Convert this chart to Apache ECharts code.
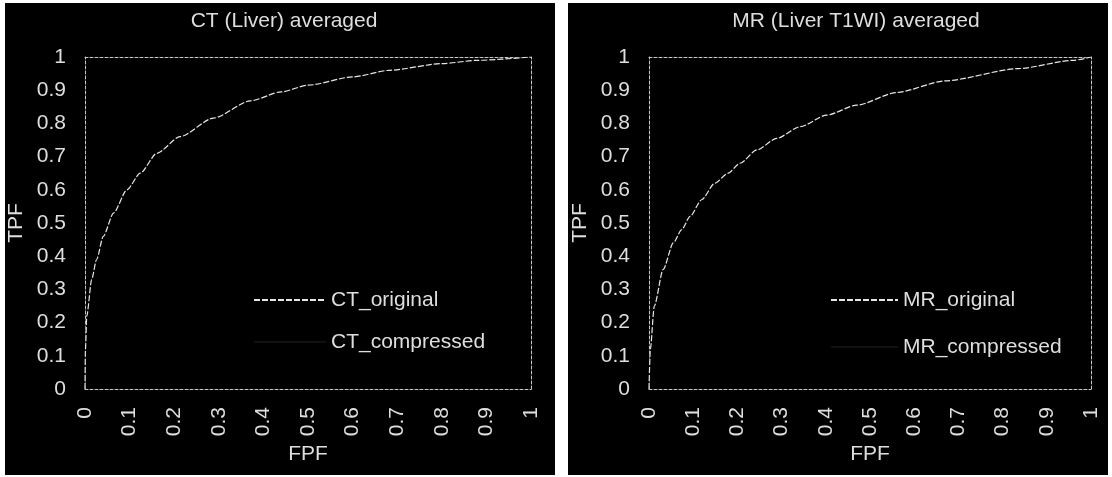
<!DOCTYPE html>
<html>
<head>
<meta charset="utf-8">
<script src="https://cdn.jsdelivr.net/npm/echarts@6/dist/echarts.min.js"></script>
<style>
html,body{margin:0;padding:0;background:#ffffff;}
#c{width:1112px;height:477px;}
</style>
</head>
<body>
<div id="c"></div>
<script>
// ---- data ----
const tickLabels = ['0','0.1','0.2','0.3','0.4','0.5','0.6','0.7','0.8','0.9','1'];

const ctFPF = [0, 0.001, 0.004, 0.015, 0.026, 0.041, 0.064, 0.094, 0.124, 0.161, 0.213, 0.288, 0.371, 0.44, 0.5, 0.6, 0.683, 0.8, 0.88, 1];
const ctOrigTPF = [0, 0.12, 0.22, 0.33, 0.39, 0.46, 0.53, 0.60, 0.65, 0.71, 0.76, 0.816, 0.868, 0.895, 0.915, 0.94, 0.96, 0.98, 0.99, 1];
const ctCompTPF = [0, 0.12, 0.22, 0.33, 0.39, 0.46, 0.53, 0.60, 0.65, 0.71, 0.76, 0.816, 0.868, 0.895, 0.915, 0.94, 0.96, 0.98, 0.99, 1];

const mrFPF = [0, 0.003, 0.012, 0.032, 0.055, 0.074, 0.093, 0.119, 0.149, 0.179, 0.206, 0.244, 0.289, 0.342, 0.402, 0.47, 0.56, 0.67, 0.835, 0.96, 1];
const mrOrigTPF = [0, 0.12, 0.25, 0.36, 0.44, 0.48, 0.52, 0.57, 0.62, 0.65, 0.68, 0.72, 0.755, 0.79, 0.825, 0.855, 0.893, 0.928, 0.965, 0.99, 1];
const mrCompTPF = [0, 0.12, 0.25, 0.36, 0.44, 0.48, 0.52, 0.57, 0.62, 0.65, 0.68, 0.72, 0.755, 0.79, 0.825, 0.855, 0.893, 0.928, 0.965, 0.99, 1];

const titles = ['CT (Liver) averaged', 'MR (Liver T1WI) averaged'];
const seriesNames = [['CT_original','CT_compressed'], ['MR_original','MR_compressed']];
// --------------------------------------

const FONT = 'Liberation Sans';
const TXT = '#dedede';
const BOX = {show: true, onZero: false, lineStyle: {color: '#c8c8c8', width: 1, type: [3, 2]}};
const pair = (xs, ys) => xs.map((x, i) => [x, ys[i]]);
const fmt = v => tickLabels[Math.round(v * 10)];

const grids = [
  {left: 85, top: 57, width: 446, height: 332},
  {left: 649, top: 57, width: 442, height: 332}
];

const xAxes = [], yAxes = [];
grids.forEach((g, i) => {
  xAxes.push({
    type: 'value', gridIndex: i, min: 0, max: 1, interval: 0.1, position: 'bottom',
    name: 'FPF', nameLocation: 'middle', nameGap: 52,
    nameTextStyle: {color: TXT, fontFamily: FONT, fontSize: 21},
    axisLine: BOX, axisTick: {show: false}, splitLine: {show: false},
    axisLabel: {rotate: 90, margin: 18, color: TXT, fontFamily: FONT, fontSize: 21, formatter: fmt}
  });
  xAxes.push({
    type: 'value', gridIndex: i, min: 0, max: 1, interval: 0.1, position: 'top',
    axisLine: BOX, axisTick: {show: false}, splitLine: {show: false}, axisLabel: {show: false}
  });
  yAxes.push({
    type: 'value', gridIndex: i, min: 0, max: 1, interval: 0.1, position: 'left',
    name: 'TPF', nameLocation: 'middle', nameGap: 58,
    nameTextStyle: {color: TXT, fontFamily: FONT, fontSize: 21},
    axisLine: BOX, axisTick: {show: false}, splitLine: {show: false},
    axisLabel: {margin: 19, color: TXT, fontFamily: FONT, fontSize: 21, formatter: fmt}
  });
  yAxes.push({
    type: 'value', gridIndex: i, min: 0, max: 1, interval: 0.1, position: 'right',
    axisLine: BOX, axisTick: {show: false}, splitLine: {show: false}, axisLabel: {show: false}
  });
});

function mkSeries(name, data, idx, orig) {
  return {
    name: name, type: 'line', xAxisIndex: idx * 2, yAxisIndex: idx * 2,
    data: data, showSymbol: false, symbol: 'none',
    smooth: 0.25, smoothMonotone: 'x',
    z: orig ? 3 : 2,
    lineStyle: orig ? {color: '#e6e6e6', width: 1.2, type: [6, 2]} : {color: '#111111', width: 1.2},
    itemStyle: {color: orig ? '#e6e6e6' : '#111111'}
  };
}

const series = [
  mkSeries(seriesNames[0][1], pair(ctFPF, ctCompTPF), 0, false),
  mkSeries(seriesNames[0][0], pair(ctFPF, ctOrigTPF), 0, true),
  mkSeries(seriesNames[1][1], pair(mrFPF, mrCompTPF), 1, false),
  mkSeries(seriesNames[1][0], pair(mrFPF, mrOrigTPF), 1, true)
];

function mkLegend(names, left, width, gap) {
  return {
    orient: 'vertical', left: left, top: 288, padding: 0,
    itemWidth: width, itemHeight: 12, itemGap: gap,
    data: names,
    itemStyle: {opacity: 0},
    textStyle: {color: TXT, fontFamily: FONT, fontSize: 21, lineHeight: 24},
    selectedMode: false
  };
}

const chart = echarts.init(document.getElementById('c'), null, {renderer: 'canvas'});
chart.setOption({
  backgroundColor: '#ffffff',
  animation: false,
  graphic: [
    {type: 'rect', z: -10, silent: true, shape: {x: 5, y: 3, width: 550, height: 472}, style: {fill: '#000'}},
    {type: 'rect', z: -10, silent: true, shape: {x: 568, y: 3, width: 540, height: 472}, style: {fill: '#000'}},
    {type: 'text', z: 10, x: 284, y: 21, style: {text: titles[0], fill: TXT, font: '21px "' + FONT + '"', align: 'center', verticalAlign: 'middle'}},
    {type: 'text', z: 10, x: 856, y: 21, style: {text: titles[1], fill: TXT, font: '21px "' + FONT + '"', align: 'center', verticalAlign: 'middle'}}
  ],
  grid: grids,
  xAxis: xAxes,
  yAxis: yAxes,
  legend: [mkLegend(seriesNames[0], 253, 72, 18), mkLegend(seriesNames[1], 830, 67, 23)],
  series: series
});
</script>
</body>
</html>
